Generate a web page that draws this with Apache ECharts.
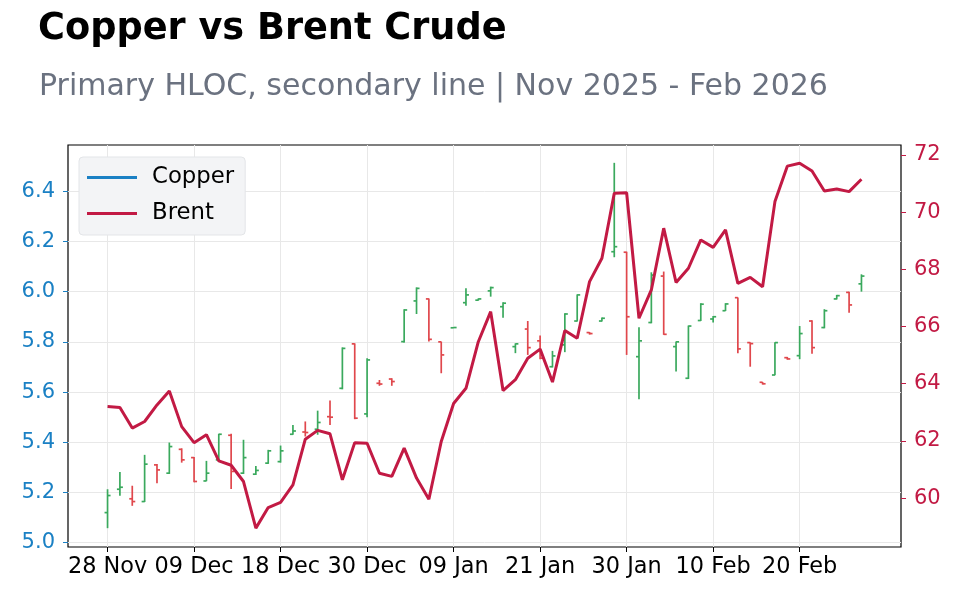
<!DOCTYPE html>
<html>
<head>
<meta charset="utf-8">
<title>Copper vs Brent Crude</title>
<script src="https://cdn.jsdelivr.net/npm/echarts@6/dist/echarts.min.js"></script>
<style>
  html, body { margin: 0; padding: 0; background: #fff; }
  #chart { width: 960px; height: 600px; }
</style>
</head>
<body>
<div id="chart"></div>
<script>
// trading days, Nov 2025 - Feb 2026
const dates = [
  '28 Nov', '01 Dec', '02 Dec', '03 Dec', '04 Dec', '05 Dec', '08 Dec', '09 Dec', '10 Dec', '11 Dec',
  '12 Dec', '15 Dec', '16 Dec', '17 Dec', '18 Dec', '19 Dec', '22 Dec', '23 Dec', '24 Dec', '26 Dec',
  '29 Dec', '30 Dec', '31 Dec', '02 Jan', '05 Jan', '06 Jan', '07 Jan', '08 Jan', '09 Jan', '12 Jan',
  '13 Jan', '14 Jan', '15 Jan', '16 Jan', '20 Jan', '21 Jan', '22 Jan', '23 Jan', '26 Jan', '27 Jan',
  '28 Jan', '29 Jan', '30 Jan', '02 Feb', '03 Feb', '04 Feb', '05 Feb', '06 Feb', '09 Feb', '10 Feb',
  '11 Feb', '12 Feb', '13 Feb', '17 Feb', '18 Feb', '19 Feb', '20 Feb', '23 Feb', '24 Feb', '25 Feb',
  '26 Feb', '27 Feb'
]

// Copper (primary axis, HLOC)
const copperOpen = [
  5.120, 5.213, 5.175, 5.164, 5.310, 5.277, 5.372, 5.339, 5.246, 5.330,
  5.428, 5.277, 5.273, 5.317, 5.323, 5.432, 5.441, 5.452, 5.502, 5.615,
  5.792, 5.513, 5.635, 5.652, 5.801, 5.963, 5.971, 5.800, 5.856, 5.956,
  5.966, 6.003, 5.940, 5.781, 5.851, 5.804, 5.701, 5.788, 5.883, 5.837,
  5.883, 6.159, 6.157, 5.741, 5.877, 6.062, 5.781, 5.655, 5.885, 5.891,
  5.924, 5.976, 5.797, 5.639, 5.668, 5.737, 5.745, 5.883, 5.857, 5.971,
  5.997, 6.031
]
const copperHigh = [
  5.213, 5.282, 5.227, 5.350, 5.314, 5.399, 5.376, 5.341, 5.326, 5.434,
  5.434, 5.410, 5.306, 5.370, 5.387, 5.469, 5.483, 5.526, 5.566, 5.778,
  5.794, 5.735, 5.648, 5.655, 5.930, 6.017, 5.973, 5.801, 5.859, 6.013,
  5.973, 6.020, 5.958, 5.794, 5.883, 5.825, 5.764, 5.914, 5.989, 5.839,
  5.897, 6.513, 6.159, 5.858, 6.077, 6.080, 5.801, 5.865, 5.954, 5.903,
  5.954, 5.977, 5.798, 5.640, 5.798, 5.740, 5.863, 5.886, 5.930, 5.987,
  6.000, 6.069
]
const copperLow = [
  5.058, 5.187, 5.147, 5.162, 5.237, 5.274, 5.319, 5.241, 5.245, 5.323,
  5.214, 5.274, 5.270, 5.314, 5.319, 5.430, 5.423, 5.430, 5.469, 5.611,
  5.492, 5.500, 5.625, 5.625, 5.797, 5.911, 5.801, 5.675, 5.855, 5.944,
  5.964, 5.980, 5.896, 5.755, 5.748, 5.731, 5.698, 5.759, 5.881, 5.829,
  5.881, 6.137, 5.748, 5.571, 5.874, 5.828, 5.682, 5.652, 5.883, 5.877,
  5.923, 5.755, 5.701, 5.630, 5.667, 5.729, 5.731, 5.753, 5.854, 5.969,
  5.916, 6.000
]
const copperClose = [
  5.188, 5.221, 5.164, 5.313, 5.290, 5.383, 5.330, 5.244, 5.277, 5.432,
  5.284, 5.339, 5.288, 5.366, 5.366, 5.445, 5.439, 5.479, 5.500, 5.774,
  5.496, 5.728, 5.632, 5.642, 5.927, 6.013, 5.810, 5.748, 5.857, 5.987,
  5.971, 6.016, 5.954, 5.792, 5.777, 5.735, 5.744, 5.911, 5.987, 5.833,
  5.894, 6.179, 5.900, 5.804, 6.066, 5.830, 5.800, 5.863, 5.950, 5.900,
  5.951, 5.772, 5.793, 5.633, 5.797, 5.732, 5.833, 5.777, 5.924, 5.984,
  5.947, 6.062
]

// Brent (secondary axis, line)
const brent = [
  63.20, 63.17, 62.45, 62.68, 63.26, 63.75, 62.50, 61.94, 62.22, 61.30,
  61.15, 60.58, 58.95, 59.67, 59.85, 60.46, 62.06, 62.37, 62.25, 60.64,
  61.94, 61.92, 60.87, 60.76, 61.75, 60.70, 59.96, 61.98, 63.31, 63.84,
  65.47, 66.52, 63.76, 64.14, 64.89, 65.21, 64.06, 65.86, 65.59, 67.57,
  68.39, 70.66, 70.68, 66.29, 67.28, 69.44, 67.54, 68.04, 69.03, 68.77,
  69.38, 67.51, 67.72, 67.39, 70.37, 71.61, 71.71, 71.44, 70.74, 70.81,
  70.72, 71.15
]

const xTicks = [0, 7, 14, 21, 28, 35, 42, 49, 56]
const copperTicks = [5.0, 5.2, 5.4, 5.6, 5.8, 6.0, 6.2, 6.4]
const brentTicks = [60, 62, 64, 66, 68, 70, 72]

const COPPER = '#1a80c4'
const BRENT = '#c21a44'
const UP = '#3aa95d'
const DOWN = '#e0474c'
const FONT = 'DejaVu Sans'

const hloc = dates.map((d, i) => [i, copperOpen[i], copperClose[i], copperLow[i], copperHigh[i]])

const chart = echarts.init(document.getElementById('chart'))

const option = {
  animation: false,
  backgroundColor: '#fff',
  title: [
    {
      text: 'Copper vs Brent Crude',
      left: 33,
      top: 6,
      textStyle: { fontFamily: FONT, fontSize: 36.7, fontWeight: 'bold', color: '#000' },
    },
    {
      text: 'Primary HLOC, secondary line | Nov 2025 - Feb 2026',
      left: 34,
      top: 67,
      textStyle: { fontFamily: FONT, fontSize: 30, fontWeight: 'normal', color: '#6b7280' },
    },
  ],
  legend: {
    orient: 'vertical',
    left: 79,
    top: 157,
    icon: 'rect',
    itemWidth: 50,
    itemHeight: 3,
    itemGap: 13,
    padding: [9, 11, 10, 8],
    backgroundColor: '#f3f4f6',
    borderColor: '#e3e5e8',
    borderWidth: 1,
    borderRadius: 4,
    textStyle: { fontFamily: FONT, fontSize: 22.8, color: '#000', padding: [0, 0, 0, 10] },
    data: [
      { name: 'Copper', itemStyle: { color: COPPER } },
      { name: 'Brent', itemStyle: { color: BRENT } },
    ],
  },
  grid: {
    left: 68,
    right: 59,
    top: 145,
    bottom: 53,
    show: true,
    borderColor: '#000',
    borderWidth: 1.2,
    backgroundColor: 'transparent',
  },
  xAxis: {
    type: 'value',
    min: -3.2,
    max: 64.2,
    axisLine: { show: false, onZero: false },
    axisTick: { show: true, length: 5, customValues: xTicks, lineStyle: { color: '#000' } },
    axisLabel: {
      customValues: xTicks,
      formatter: (v) => dates[Math.round(v)],
      fontFamily: FONT,
      fontSize: 22.4,
      color: '#000',
      margin: 9,
    },
    splitLine: { show: true, lineStyle: { color: '#e8e8e8', width: 1 } },
  },
  yAxis: [
    {
      type: 'value',
      min: 4.983,
      max: 6.584,
      position: 'left',
      axisLine: { show: false, onZero: false },
      axisTick: { show: true, length: 5, customValues: copperTicks, lineStyle: { color: COPPER } },
      axisLabel: {
        customValues: copperTicks,
        formatter: (v) => v.toFixed(1),
        fontFamily: FONT,
        fontSize: 21,
        color: COPPER,
        margin: 13,
      },
      splitLine: { show: true, lineStyle: { color: '#e8e8e8', width: 1 } },
    },
    {
      type: 'value',
      min: 58.29,
      max: 72.35,
      position: 'right',
      axisLine: { show: false, onZero: false },
      axisTick: { show: true, length: 5, customValues: brentTicks, lineStyle: { color: BRENT } },
      axisLabel: {
        customValues: brentTicks,
        formatter: (v) => String(Math.round(v)),
        fontFamily: FONT,
        fontSize: 21,
        color: BRENT,
        margin: 13,
      },
      splitLine: { show: false },
    },
  ],
  series: [
    {
      name: 'Copper',
      type: 'custom',
      yAxisIndex: 0,
      color: COPPER,
      z: 2,
      encode: { x: 0, y: [1, 2, 3, 4] },
      data: hloc,
      renderItem: (params, api) => {
        const x = api.value(0)
        const o = api.value(1)
        const c = api.value(2)
        const pO = api.coord([x, o])
        const pC = api.coord([x, c])
        const pL = api.coord([x, api.value(3)])
        const pH = api.coord([x, api.value(4)])
        const col = c >= o ? UP : DOWN
        const st = { stroke: col, lineWidth: 1.7 }
        return {
          type: 'group',
          children: [
            { type: 'line', shape: { x1: pH[0], y1: pH[1], x2: pL[0], y2: pL[1] }, style: st },
            { type: 'line', shape: { x1: pO[0] - 3, y1: pO[1], x2: pO[0], y2: pO[1] }, style: st },
            { type: 'line', shape: { x1: pC[0], y1: pC[1], x2: pC[0] + 3, y2: pC[1] }, style: st },
          ],
        }
      },
    },
    {
      name: 'Brent',
      type: 'line',
      yAxisIndex: 1,
      z: 5,
      data: brent.map((v, i) => [i, v]),
      showSymbol: false,
      color: BRENT,
      lineStyle: { color: BRENT, width: 3 },
    },
  ],
}

chart.setOption(option)
</script>
</body>
</html>
